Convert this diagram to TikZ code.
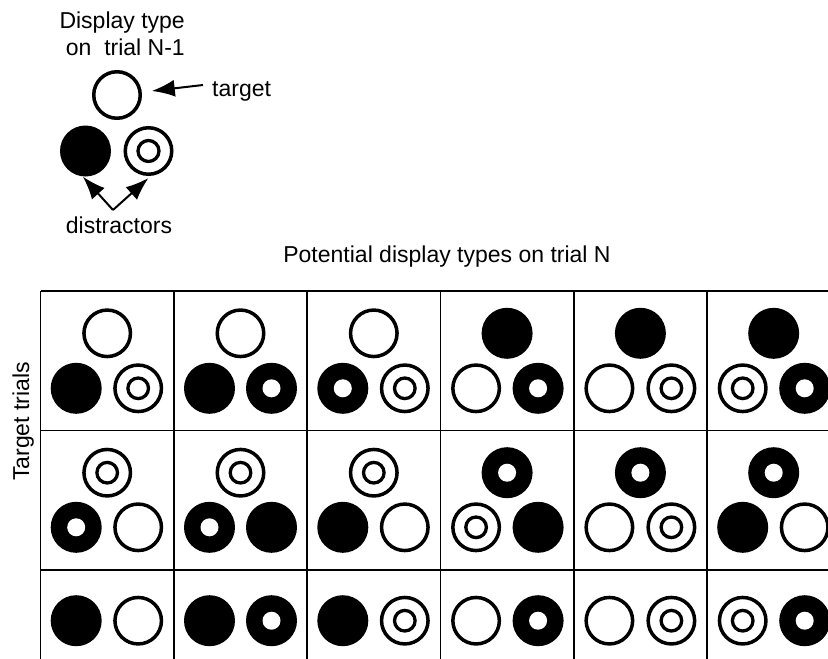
\documentclass[tikz,border=0pt]{standalone}
\usepackage{fontspec}
\setsansfont{Liberation Sans}
\usetikzlibrary{arrows.meta}

\begin{document}
\begin{tikzpicture}[x=1pt, y=-1pt,
    lbl/.style={font=\sffamily\fontsize{23}{27}\selectfont, inner sep=0pt},
    disc/.style={circle, inner sep=0pt},
    hollow/.style={disc, draw, line width=3.5pt, minimum size=46.5pt},
    blob/.style={disc, fill=black, minimum size=51pt},
    donut/.style={blob, path picture={\fill[white] (path picture bounding box.center) circle (9pt);}},
    bullseye/.style={hollow, path picture={\draw[line width=3.3pt] (path picture bounding box.center) circle (#1pt);}},
    bullseye/.default=10.3,
    pointer/.style={-{Latex[length=23pt,width=17pt]}, line width=2pt},
    gridline/.style={line width=1.6pt}
  ]
  \useasboundingbox (0,0) rectangle (828,659);
  \clip (0,0) rectangle (828,659);

  % legend for trial N-1
  \node[lbl, anchor=base east] (hd1) at (185,28) {Display type};
  \node[lbl, anchor=base east] (hd2) at (185,55) {on\ \ trial N-1};
  \node[hollow] (ltgt) at (117,95) {};
  \node[blob] (lfill) at (85.5,151) {};
  \node[bullseye=10.5] (lring) at (148.5,151) {};
  \node[lbl, anchor=base west] (tname) at (212,96) {target};
  \node[lbl, anchor=base] (dname) at (119,233) {distractors};
  \coordinate (tfoot) at (203,85);
  \coordinate (dfoot) at (113,210);
  \draw[pointer, shorten >=10pt] (tfoot) -- (ltgt);
  \draw[pointer] (dfoot) -- (lfill.-96);
  \draw[pointer] (dfoot) -- ([yshift=-2pt]lring.south);

  % table of trial N displays
  \node[lbl, anchor=base] (title) at (447,262) {Potential display types on trial N};
  \node[lbl, anchor=base, rotate=90] (side) at (29,421.5) {Target trials};
  \foreach \gx in {0,...,6}
    \draw[gridline] ({40.5+133.3*\gx},291) -- ({40.5+133.3*\gx},680);
  \foreach \gy in {291,430.5,570}
    \draw[gridline] (40.5,\gy) -- (860,\gy);

  % rows 1 and 2: three items, row 3: two items
  \foreach \ka/\kb/\kc [count=\c from 0] in {hollow/blob/bullseye, hollow/blob/donut,
      hollow/donut/bullseye, blob/hollow/donut, blob/hollow/bullseye, blob/bullseye/donut} {
    \node[\ka] (t1-\c) at ({107.2+133.3*\c},333.3) {};
    \node[\kb] (l1-\c) at ({76.2+133.3*\c},388.3) {};
    \node[\kc] (r1-\c) at ({138.2+133.3*\c},388.3) {};
  }
  \foreach \ka/\kb/\kc [count=\c from 0] in {bullseye/donut/hollow, bullseye/donut/blob,
      bullseye/blob/hollow, donut/bullseye/blob, donut/hollow/bullseye, donut/blob/hollow} {
    \node[\ka] (t2-\c) at ({107.2+133.3*\c},472.7) {};
    \node[\kb] (l2-\c) at ({76.2+133.3*\c},527.3) {};
    \node[\kc] (r2-\c) at ({138.2+133.3*\c},527.3) {};
  }
  \foreach \kb/\kc [count=\c from 0] in {blob/hollow, blob/donut, blob/bullseye,
      hollow/donut, hollow/bullseye, bullseye/donut} {
    \node[\kb] (l3-\c) at ({76.2+133.3*\c},620.7) {};
    \node[\kc] (r3-\c) at ({138.2+133.3*\c},620.7) {};
  }
\end{tikzpicture}
\end{document}
